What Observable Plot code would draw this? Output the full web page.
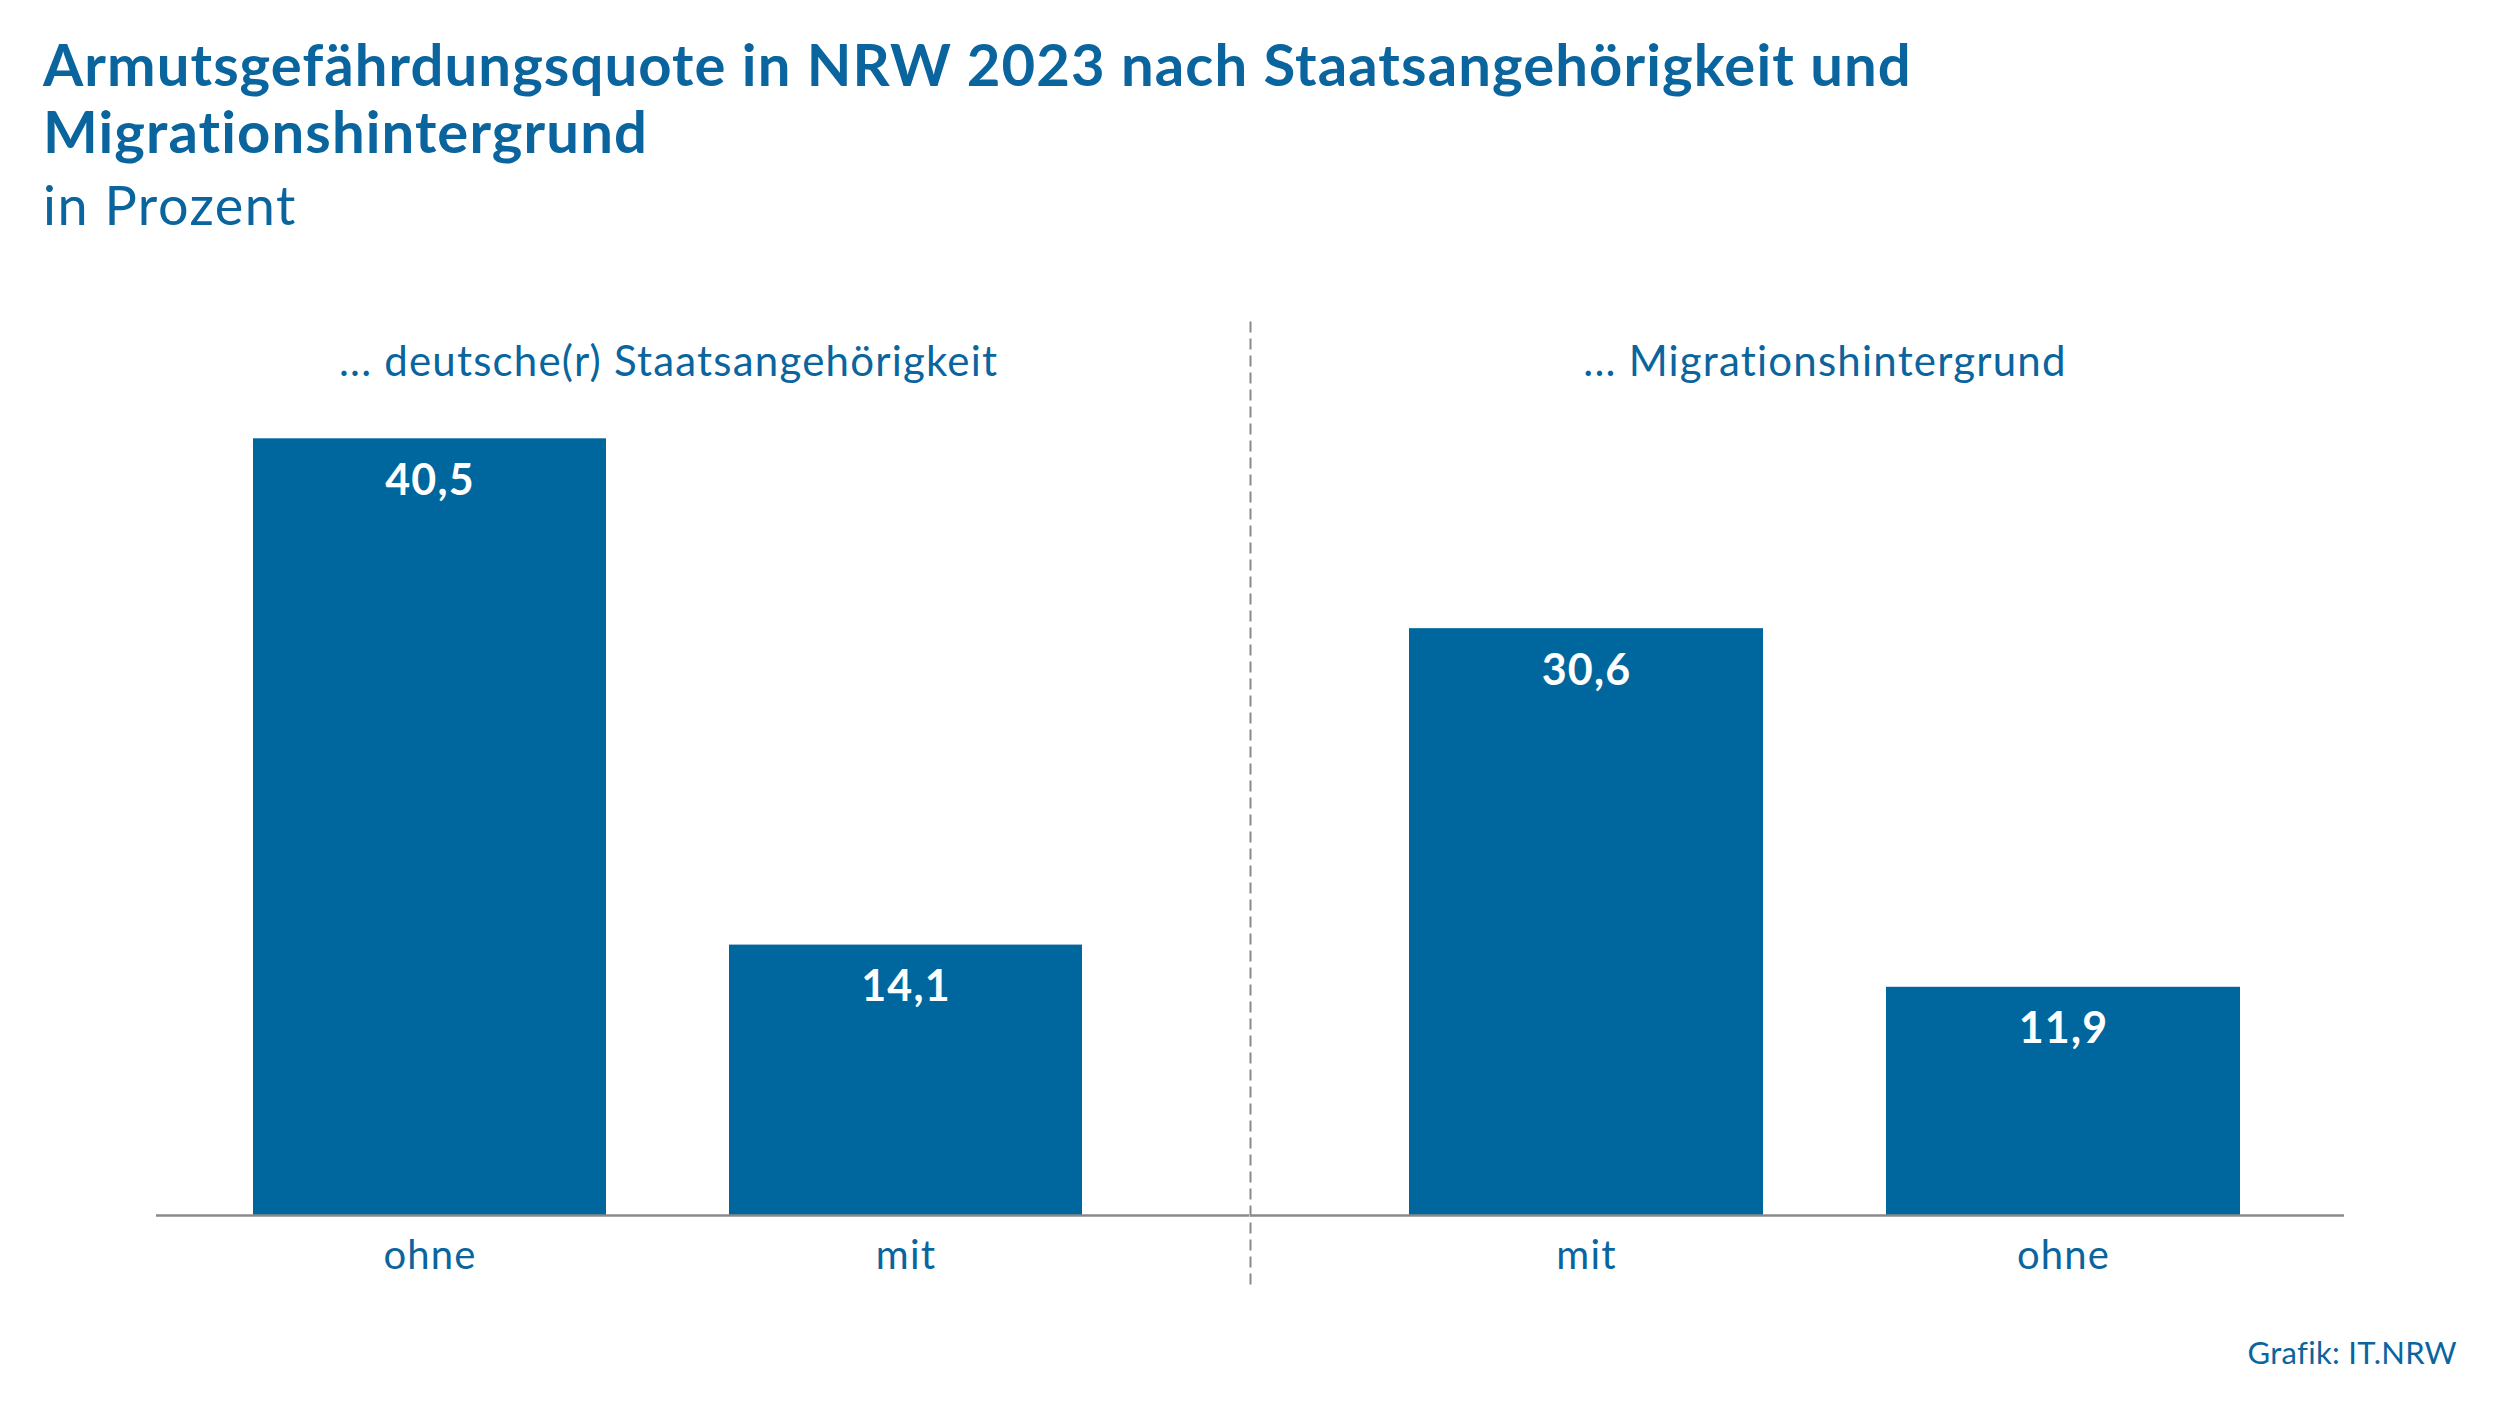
<!DOCTYPE html>
<html>
<head>
<meta charset="utf-8">
<script src="https://cdn.jsdelivr.net/npm/d3@7"></script>
<script src="https://cdn.jsdelivr.net/npm/@observablehq/plot@0.6"></script>
<style>
  html, body { margin: 0; padding: 0; background: #fff; }
  body { width: 2500px; height: 1406px; position: relative; overflow: hidden; font-family: Lato, "Open Sans", sans-serif; color: #0a659e; font-variant-ligatures: none; }
  #title { position: absolute; left: 43px; top: 30px; font-size: 58px; font-weight: 700; line-height: 67px; letter-spacing: 1.1px; margin: 0; }
  #subtitle { position: absolute; left: 43px; top: 173px; font-size: 54px; font-weight: 400; line-height: 1.2; letter-spacing: 1.5px; }
  #caption { position: absolute; right: 43px; top: 1334px; font-size: 31px; line-height: 36px; letter-spacing: 0.3px; }
  #charts { position: absolute; left: 156px; top: 300px; display: flex; }
  #charts svg { overflow: visible; background: transparent; }
</style>
</head>
<body>
<div id="title">Armutsgefährdungsquote in NRW 2023 nach Staatsangehörigkeit und<br>Migrationshintergrund</div>
<div id="subtitle">in Prozent</div>
<div id="charts"></div>
<div id="caption">Grafik: IT.NRW</div>
<script>
// Data
const groupLabels = ["... deutsche(r) Staatsangehörigkeit", "... Migrationshintergrund"];
const categoriesStaat = ["ohne", "mit"];
const valuesStaat = [40.5, 14.1];
const categoriesMigration = ["mit", "ohne"];
const valuesMigration = [30.6, 11.9];
const yDomain = [0, 45];

const blue = "#00669e";
const textBlue = "#0a659e";
const fmt = d3.formatLocale({decimal: ",", thousands: ".", grouping: [3], currency: ["", "€"]}).format(".1f");

function makeChart(label, cats, vals, {width, marginLeft, align}) {
  const data = cats.map((c, i) => ({cat: c, value: vals[i]}));
  const paddingInner = 0.258, paddingOuter = 0.2757;
  const W = width - marginLeft;
  const n = cats.length;
  const step = W / (n - paddingInner + 2 * paddingOuter);
  const span = step * (n - paddingInner);
  const labelOffset = (align - 0.5) * (W - span);
  const marks = [
    Plot.barY(data, {x: "cat", y: "value", fill: blue}),
    Plot.ruleY([0], {stroke: "#8a8a8a", strokeWidth: 2.5}),
    Plot.text(data, {x: "cat", y: "value", text: d => fmt(d.value), fill: "white", fontWeight: 700, fontSize: 43, lineAnchor: "bottom", dy: 56}),
    Plot.text([label], {frameAnchor: "top", lineAnchor: "bottom", dy: 23, dx: labelOffset, fontSize: 42, fill: textBlue}),
    Plot.axisX({tickSize: 0, tickPadding: 25, fontSize: 40, label: null, color: textBlue})
  ];
  if (marginLeft > 0) {
    marks.push(Plot.frame({anchor: "left", stroke: "#8a8a8a", strokeWidth: 2, strokeDasharray: "9,8", insetTop: -30, insetBottom: -68}));
  }
  return Plot.plot({
    width,
    height: 1000,
    marginTop: 52,
    marginBottom: 85,
    marginLeft,
    marginRight: 0,
    style: {fontFamily: "Lato, 'Open Sans', sans-serif", fontSize: "40px", letterSpacing: "1.2px", background: "transparent", overflow: "visible"},
    x: {type: "band", domain: cats, paddingInner, paddingOuter, align, axis: null},
    y: {domain: yDomain, axis: null},
    marks
  });
}

const container = document.getElementById("charts");
container.appendChild(makeChart(groupLabels[0], categoriesStaat, valuesStaat, {width: 1093, marginLeft: 0, align: 0.369}));
container.appendChild(makeChart(groupLabels[1], categoriesMigration, valuesMigration, {width: 1095, marginLeft: 1, align: 0.6046}));
</script>
</body>
</html>
